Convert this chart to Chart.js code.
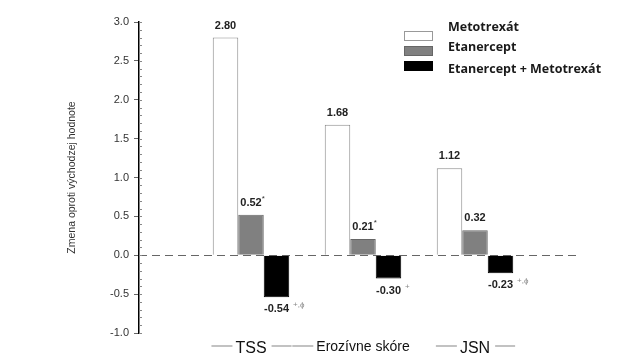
<!DOCTYPE html>
<html>
<head>
<meta charset="utf-8">
<script src="https://cdn.jsdelivr.net/npm/chart.js@4"></script>
<style>
  html, body { margin: 0; padding: 0; background: #ffffff; }
  #wrap { width: 637px; height: 364px; }
</style>
</head>
<body>
<div id="wrap"><canvas id="chart" width="637" height="364"></canvas></div>
<script>
// categories and values
const categories = ['TSS', 'Erozívne skóre', 'JSN'];
const metotrexat = [2.80, 1.68, 1.12];
const etanercept = [0.52, 0.21, 0.32];
const kombinacia = [-0.54, -0.30, -0.23];
const metotrexatMarks = ['', '', ''];
const etanerceptMarks = ['*', '*', ''];
const kombinaciaMarks = ['+,ϕ', '+', '+,ϕ'];
const yTicks = [3.0, 2.5, 2.0, 1.5, 1.0, 0.5, 0.0, -0.5, -1.0];

// empty slots at both ends so the groups sit on the grid lines
const labels = ['', ...categories, ''];
const pad = arr => [null, ...arr, null];

const marks = [metotrexatMarks, etanerceptMarks, kombinaciaMarks];

// minor ticks, zero line, value labels, x label dashes, legend
const extras = {
  id: 'extras',
  beforeDatasetsDraw(chart) {
    const { ctx, scales: { x, y } } = chart;
    ctx.save();
    // dashed zero line
    const zy = Math.round(y.getPixelForValue(0)) + 0.5;
    ctx.strokeStyle = '#666';
    ctx.lineWidth = 1;
    ctx.setLineDash([8, 5]);
    ctx.beginPath();
    ctx.moveTo(x.left, zy);
    ctx.lineTo(x.left + 441, zy);
    ctx.stroke();
    ctx.setLineDash([]);
    // minor ticks on the inner side of the axis
    ctx.strokeStyle = '#888';
    for (let v = -10; v <= 30; v++) {
      const py = Math.round(y.getPixelForValue(v / 10)) + 0.5;
      ctx.beginPath();
      ctx.moveTo(x.left, py);
      ctx.lineTo(x.left + 3, py);
      ctx.stroke();
    }
    ctx.restore();
  },
  afterDatasetsDraw(chart) {
    const { ctx } = chart;
    ctx.save();
    chart.data.datasets.forEach((ds, di) => {
      const meta = chart.getDatasetMeta(di);
      meta.data.forEach((bar, i) => {
        const v = ds.data[i];
        if (v === null) return;
        const txt = v.toFixed(2);
        ctx.font = 'bold 11px "Liberation Sans", Arial, sans-serif';
        ctx.fillStyle = '#222';
        ctx.textAlign = 'center';
        ctx.textBaseline = 'middle';
        const ty = v >= 0 ? bar.y - 12 : bar.y + 12;
        ctx.fillText(txt, bar.x, ty);
        const m = marks[di][i - 1];
        if (m) {
          const w = ctx.measureText(txt).width;
          ctx.font = '8px "Liberation Sans", Arial, sans-serif';
          ctx.textAlign = 'left';
          ctx.fillStyle = m === '*' ? '#333' : '#888';
          ctx.fillText(m, bar.x + w / 2 + (m === '*' ? 0 : 4), ty - 4);
        }
      });
    });
    ctx.restore();
  },
  afterDraw(chart) {
    const { ctx, scales: { x } } = chart;
    ctx.save();
    // gray dashes beside the category names
    const sides = [[1, 1], [1, 0], [1, 1]];
    const sizes = [16, 14, 16];
    categories.forEach((c, i) => {
      const cx = x.getPixelForValue(i + 1);
      ctx.font = sizes[i] + 'px "Liberation Sans", Arial, sans-serif';
      const w = ctx.measureText(c).width;
      const ly = 346;
      ctx.strokeStyle = '#999';
      ctx.lineWidth = 1.2;
      if (sides[i][0]) {
        ctx.beginPath();
        ctx.moveTo(cx - w / 2 - 24, ly);
        ctx.lineTo(cx - w / 2 - 3, ly);
        ctx.stroke();
      }
      if (sides[i][1]) {
        ctx.beginPath();
        ctx.moveTo(cx + w / 2 + 5, ly);
        ctx.lineTo(cx + w / 2 + 25, ly);
        ctx.stroke();
      }
    });
    // legend
    const boxY = [36, 51, 66];
    const textY = [27, 47, 69];
    const fills = ['#ffffff', '#808080', '#000000'];
    const borders = ['#999999', '#666666', '#000000'];
    chart.data.datasets.forEach((ds, i) => {
      ctx.fillStyle = fills[i];
      ctx.fillRect(404, boxY[i] - 5, 29, 10);
      ctx.strokeStyle = borders[i];
      ctx.lineWidth = 1;
      ctx.strokeRect(404.5, boxY[i] - 4.5, 28, 9);
      ctx.fillStyle = '#1a1a1a';
      ctx.font = 'bold 12.5px "Open Sans", "Noto Sans", sans-serif';
      ctx.textAlign = 'left';
      ctx.textBaseline = 'middle';
      ctx.fillText(ds.label, 448, textY[i]);
    });
    ctx.restore();
  }
};

new Chart(document.getElementById('chart').getContext('2d'), {
  type: 'bar',
  data: {
    labels,
    datasets: [
      {
        label: 'Metotrexát',
        data: pad(metotrexat),
        backgroundColor: '#ffffff',
        borderColor: '#8a8a8a',
        borderWidth: 1
      },
      {
        label: 'Etanercept',
        data: pad(etanercept),
        backgroundColor: '#808080',
        borderColor: '#666666',
        borderWidth: 1
      },
      {
        label: 'Etanercept + Metotrexát',
        data: pad(kombinacia),
        backgroundColor: '#000000',
        borderColor: '#000000',
        borderWidth: 1
      }
    ]
  },
  options: {
    responsive: false,
    animation: false,
    layout: { padding: { left: 66, right: 50, top: 22, bottom: 0 } },
    plugins: {
      legend: { display: false },
      tooltip: { enabled: false }
    },
    datasets: {
      bar: { barPercentage: 1.0, categoryPercentage: 0.683, grouped: true }
    },
    scales: {
      x: {
        offset: false,
        grid: { display: false, drawTicks: false, tickLength: 0 },
        border: { display: false },
        afterFit: s => { s.height = 31; },
        ticks: {
          padding: 6,
          color: '#111',
          maxRotation: 0,
          autoSkip: false,
          font: ctx => ({
            family: '"Liberation Sans", Arial, sans-serif',
            size: ctx.index === 2 ? 14 : 16
          })
        }
      },
      y: {
        min: -1,
        max: 3,
        afterFit: s => { s.width = 73; },
        afterBuildTicks: s => { s.ticks = yTicks.map(v => ({ value: v })); },
        border: { display: true, color: '#000', width: 1.5 },
        grid: {
          drawOnChartArea: false,
          drawTicks: true,
          tickLength: 5,
          color: '#666'
        },
        ticks: {
          color: '#333',
          padding: 5,
          font: { family: '"Liberation Sans", Arial, sans-serif', size: 11 },
          callback: v => Number(v).toFixed(1)
        },
        title: {
          display: true,
          text: 'Zmena oproti východzej hodnote',
          color: '#333',
          padding: { top: 0, bottom: 0 },
          font: { family: '"Liberation Sans", Arial, sans-serif', size: 10.5 }
        }
      }
    }
  },
  plugins: [extras]
});
</script>
</body>
</html>
